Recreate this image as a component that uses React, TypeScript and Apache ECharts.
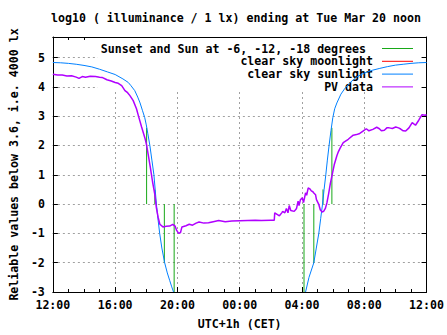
import React, { useEffect, useRef } from "react";
import * as echarts from "echarts";

const titleText = "log10 ( illuminance / 1 lx) ending at Tue Mar 20 noon";
const xTickLabels = ["12:00", "16:00", "20:00", "00:00", "04:00", "08:00", "12:00"];
const xAxisTitle = "UTC+1h (CET)";
const yAxisTitle = "Reliable values below 3.6, i.e. 4000 lx";
const legendLabels = [
  "Sunset and Sun at -6, -12, -18 degrees",
  "clear sky moonlight",
  "clear sky sunlight",
  "PV data",
];
const legendColors = ["#18a818", "#ff0000", "#0080ff", "#b000ff"];

// hours after 12:00 of the previous day
const sunEventHours = [6.02, 6.55, 7.16, 7.79, 16.13, 16.76, 17.35, 17.92];
const sunEventTops = [2.6, 0.5, -2, -3, -3, -2, 0.5, 2.6];

const moonHours: number[] = [];
const moonValues: number[] = [];

const sunEveHours = [0, 0.5, 1, 1.5, 2, 2.5, 3, 3.5, 4, 4.5, 4.84, 5.0, 5.26, 5.45, 5.6, 5.75, 5.9, 6.0, 6.1, 6.23, 6.36, 6.49, 6.57, 6.65, 6.75, 6.86, 7.0, 7.18, 7.35, 7.5, 7.62, 7.75];
const sunEveValues = [4.83, 4.82, 4.8, 4.77, 4.73, 4.68, 4.6, 4.51, 4.42, 4.27, 4.15, 4.05, 3.87, 3.65, 3.45, 3.2, 2.95, 2.7, 2.4, 2.0, 1.5, 1.0, 0.5, 0.0, -0.5, -1.0, -1.5, -2.0, -2.35, -2.6, -2.8, -3.0];

const sunMornHours = [16.23, 16.45, 16.76, 16.92, 17.08, 17.2, 17.32, 17.42, 17.53, 17.63, 17.74, 17.86, 17.98, 18.1, 18.24, 18.5, 18.76, 19.1, 19.5, 20.0, 20.55, 21.0, 21.5, 22.0, 22.5, 23.0, 23.5, 24];
const sunMornValues = [-3.0, -2.5, -2.0, -1.5, -1.0, -0.5, 0.0, 0.5, 1.0, 1.5, 2.0, 2.5, 2.95, 3.25, 3.45, 3.75, 3.95, 4.15, 4.33, 4.47, 4.57, 4.63, 4.69, 4.74, 4.77, 4.8, 4.82, 4.83];

const pvHours = [0.0, 0.3, 0.6, 0.9, 1.2, 1.5, 1.68, 1.89, 2.1, 2.4, 2.74, 3.0, 3.16, 3.47, 3.75, 4.0, 4.2, 4.42, 4.63, 4.8, 4.95, 5.16, 5.37, 5.5, 5.7, 5.92, 6.02, 6.13, 6.27, 6.4, 6.55, 6.65, 6.76, 6.87, 7.07, 7.28, 7.5, 7.7, 7.85, 7.95, 8.08, 8.2, 8.29, 8.55, 8.76, 8.97, 9.2, 9.39, 9.7, 10.0, 10.3, 10.65, 11.07, 11.5, 12.0, 12.5, 13.0, 13.39, 14.0, 14.22, 14.25, 14.4, 14.55, 14.7, 14.76, 14.9, 15.0, 15.1, 15.18, 15.28, 15.5, 15.65, 15.75, 15.81, 15.9, 16.02, 16.1, 16.23, 16.3, 16.4, 16.5, 16.6, 16.7, 16.76, 16.87, 16.93, 17.07, 17.18, 17.3, 17.39, 17.5, 17.6, 17.71, 17.82, 17.92, 18.07, 18.24, 18.34, 18.45, 18.65, 18.97, 19.29, 19.5, 19.71, 19.92, 20.13, 20.3, 20.55, 20.8, 20.97, 21.1, 21.29, 21.45, 21.6, 21.8, 22.02, 22.2, 22.34, 22.5, 22.66, 22.87, 23.08, 23.29, 23.5, 23.71, 23.92, 24.0];
const pvValues = [4.43, 4.4, 4.4, 4.37, 4.38, 4.33, 4.29, 4.35, 4.33, 4.36, 4.35, 4.33, 4.32, 4.24, 4.2, 4.15, 4.12, 4.04, 3.87, 3.8, 3.7, 3.53, 3.25, 3.0, 2.63, 2.24, 2.01, 1.67, 1.22, 0.77, 0.32, -0.13, -0.45, -0.69, -0.78, -0.76, -0.75, -0.69, -0.75, -0.9, -1.0, -0.97, -0.78, -0.74, -0.69, -0.72, -0.65, -0.61, -0.65, -0.64, -0.6, -0.56, -0.6, -0.58, -0.57, -0.56, -0.55, -0.56, -0.55, -0.55, -0.3, -0.35, -0.4, -0.3, -0.25, -0.3, -0.15, -0.3, -0.05, -0.22, -0.25, -0.15, 0.1, -0.05, 0.15, 0.21, 0.05, 0.38, 0.3, 0.55, 0.52, 0.45, 0.42, 0.38, 0.32, 0.15, 0.0, -0.2, -0.27, -0.25, -0.15, 0.04, 0.35, 0.7, 0.95, 1.34, 1.65, 1.79, 1.91, 2.1, 2.21, 2.35, 2.37, 2.41, 2.49, 2.57, 2.5, 2.55, 2.62, 2.57, 2.5, 2.52, 2.6, 2.6, 2.58, 2.63, 2.6, 2.56, 2.5, 2.49, 2.6, 2.78, 2.69, 2.86, 3.05, 3.03, 3.05];

const FONT_FAMILY = "'DejaVu Sans Mono', monospace";
const FONT_SIZE = 11.6;
const font = `bold ${FONT_SIZE}px ${FONT_FAMILY}`;

const zip = (xs: number[], ys: number[]) => xs.map((x, i) => [x, ys[i]]);

function buildOption() {
  const gridColor = "#a0a0a0";
  const textStyle = { fontFamily: FONT_FAMILY, fontWeight: "bold" as const, fontSize: FONT_SIZE, color: "#000" };

  const line = (data: number[][], color: string, width: number) => ({
    type: "line",
    data,
    symbol: "none",
    showSymbol: false,
    silent: true,
    clip: true,
    lineStyle: { color, width },
    itemStyle: { color },
  });

  const series: any[] = [];
  sunEventHours.forEach((h, i) => {
    series.push(line([[h, 0], [h, sunEventTops[i]]], legendColors[0], 1));
  });
  series.push(line(zip(moonHours, moonValues), legendColors[1], 1));
  series.push(line(zip(sunEveHours, sunEveValues), legendColors[2], 1));
  series.push(line(zip(sunMornHours, sunMornValues), legendColors[2], 1));
  series.push(line(zip(pvHours, pvValues), legendColors[3], 1.5));

  const legendRowY = [48.5, 61.3, 74.1, 86.9];
  const legendTextRight = [366, 373, 373, 373];
  const legendEls: any[] = [];
  legendLabels.forEach((lab, i) => {
    legendEls.push({
      type: "text",
      z: 3,
      style: {
        text: lab,
        x: legendTextRight[i],
        y: legendRowY[i],
        fill: "#000",
        font,
        align: "right",
        verticalAlign: "middle",
        textAlign: "right",
        textVerticalAlign: "middle",
      },
    });
    legendEls.push({
      type: "line",
      z: 3,
      shape: { x1: 382, y1: legendRowY[i], x2: 413, y2: legendRowY[i] },
      style: { stroke: legendColors[i], lineWidth: 1 },
    });
  });

  const xCommon = {
    type: "value",
    min: 0,
    max: 24,
    interval: 4,
    axisLine: { show: true, onZero: false, lineStyle: { color: "#000", width: 1 } },
    axisTick: { show: true, inside: true, length: 5, lineStyle: { color: "#000" } },
    minorTick: { show: true, splitNumber: 4, length: 3, lineStyle: { color: "#000" } },
  };
  const yCommon = {
    type: "value",
    min: -3,
    max: 5.7,
    interval: 1,
    axisLine: { show: true, onZero: false, lineStyle: { color: "#000", width: 1 } },
    axisTick: { show: true, inside: true, length: 5, lineStyle: { color: "#000" } },
  };

  return {
    animation: false,
    backgroundColor: "#fff",
    grid: { left: 48, right: 20, top: 37, bottom: 40, show: false },
    xAxis: [
      {
        ...xCommon,
        position: "bottom",
        name: xAxisTitle,
        nameLocation: "middle",
        nameGap: 26,
        nameTextStyle: textStyle,
        axisLabel: {
          ...textStyle,
          margin: 7,
          formatter: (_v: number, idx: number) => xTickLabels[idx] ?? "",
        },
        splitLine: {
          show: true,
          showMinLine: false,
          showMaxLine: false,
          lineStyle: { color: gridColor, type: [2, 3], width: 1 },
        },
      },
      {
        ...xCommon,
        position: "top",
        axisLabel: { show: false },
        splitLine: { show: false },
      },
    ],
    yAxis: [
      {
        ...yCommon,
        position: "left",
        name: yAxisTitle,
        nameLocation: "middle",
        nameGap: 28,
        nameTextStyle: textStyle,
        axisLabel: {
          ...textStyle,
          margin: 8,
          formatter: (v: number) => (Math.abs(v - Math.round(v)) < 1e-6 ? String(Math.round(v)) : ""),
        },
        splitLine: {
          show: true,
          showMinLine: false,
          showMaxLine: false,
          lineStyle: { color: gridColor, type: [2, 3], width: 1 },
        },
      },
      {
        ...yCommon,
        position: "right",
        axisLabel: { show: false },
        splitLine: { show: false },
      },
    ],
    graphic: {
      elements: [
        {
          type: "rect",
          z: 1,
          silent: true,
          shape: { x: 98, y: 38, width: 322, height: 54 },
          style: { fill: "#fff" },
        },
        {
          type: "text",
          z: 3,
          style: {
            text: titleText,
            x: 236,
            y: 17.5,
            fill: "#000",
            font,
            align: "center",
            verticalAlign: "middle",
            textAlign: "center",
            textVerticalAlign: "middle",
          },
        },
        ...legendEls,
      ],
    },
    series,
  };
}

export default function App() {
  const ref = useRef<HTMLDivElement>(null);
  useEffect(() => {
    if (!ref.current) return;
    const chart = echarts.init(ref.current, undefined, { renderer: "svg" });
    chart.setOption(buildOption() as any);
    return () => chart.dispose();
  }, []);
  return <div ref={ref} style={{ width: 447, height: 335, position: "absolute", left: 0, top: 0, background: "#fff" }} />;
}
